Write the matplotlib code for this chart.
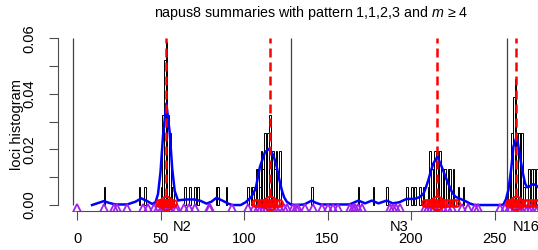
import numpy as np
import matplotlib
matplotlib.use("Agg")
import matplotlib.pyplot as plt

plt.rcParams['font.family'] = ['Liberation Sans', 'DejaVu Sans']
plt.rcParams['mathtext.fontset'] = 'custom'
plt.rcParams['mathtext.it'] = 'Liberation Sans:italic'
plt.rcParams['mathtext.rm'] = 'Liberation Sans'

# histogram: bin left edges (Mb) and counts; one count = 0.0065 density
bin_left = [16, 37, 40, 50, 51, 52, 53, 54, 55, 56, 57, 64, 67, 70, 72, 83, 84, 89,
            102, 104, 105, 107, 108, 109, 110, 111, 112, 113, 114, 115, 116, 117, 118, 119, 121,
            140, 168, 177, 185, 197, 200, 202, 205, 207, 210, 211, 212, 213, 214, 215, 216,
            217, 218, 219, 220, 222, 223, 225, 228, 231,
            258, 259, 260, 261, 262, 263, 264, 265, 266, 267, 270, 272, 273, 275]
bin_count = [1, 1, 1, 1, 5, 8, 9, 5, 4, 1, 1, 1, 1, 1, 1, 1, 1, 1,
             1, 1, 1, 2, 2, 1, 3, 2, 4, 3, 4, 5, 2, 3, 2, 3, 3,
             1, 1, 1, 1, 1, 1, 1, 1, 1, 1, 3, 2, 2, 3, 3, 3,
             3, 2, 2, 2, 2, 2, 2, 1, 1,
             1, 2, 4, 6, 7, 4, 4, 4, 4, 1, 2, 2, 2, 2]
unit = 0.0065

# smoothed density (blue)
dens_x = [9, 13, 16, 19, 23, 30, 35, 38.5, 42, 45, 47, 48.5, 50, 51.5, 53.5, 55.5, 57,
          58.5, 60.5, 62, 66, 70, 74, 77.5, 80.5, 83.5, 87, 91, 93, 98, 101, 104.5, 107,
          109.5, 112.5, 115.2, 117.5, 119.6, 121, 122.6, 124, 125.6, 128, 131,
          136, 138, 140.5, 143, 146, 163, 165.5, 168.5, 172.5, 176.5, 180.5, 185.4, 189,
          193, 197.4, 202, 205, 207.4, 209, 210.4, 212, 213.4, 215.8, 218.4, 221.4, 224.4,
          226.5, 228.4, 230.3, 232.3, 235, 238, 254,
          255.3, 256.8, 258.3, 260, 261.3, 263.3, 265.3, 266.8, 268.3, 269.5, 270.8, 272,
          273.2, 274.5, 276, 278, 281]
dens_y = [0, 0.0008, 0.0014, 0.0008, 0.0002, 0.0002, 0.0012, 0.0024, 0.0014, 0.0004,
          0.001, 0.004, 0.012, 0.025, 0.0365, 0.026, 0.013, 0.005, 0.0016, 0.0018, 0.002,
          0.002, 0.0015, 0.0005, 0.0012, 0.0026, 0.0016, 0.0004, 0, 0, 0.001, 0.003, 0.006,
          0.0137, 0.019, 0.0203, 0.018, 0.0137, 0.0095, 0.0054, 0.0028, 0.0012, 0.0002, 0,
          0.0002, 0.0008, 0.0016, 0.0008, 0.0002, 0.0002, 0.0008, 0.0016, 0.0006, 0.0016,
          0.0006, 0.0016, 0.0006, 0.001, 0.0022, 0.0022, 0.0028, 0.004, 0.0065, 0.009,
          0.0125, 0.015, 0.0174, 0.0137, 0.009, 0.0048, 0.003, 0.0025, 0.002, 0.0015,
          0.0006, 0, 0,
          0.0002, 0.002, 0.0054, 0.013, 0.021, 0.0248, 0.0173, 0.012, 0.0078, 0.0064,
          0.0066, 0.0072, 0.0075, 0.0072, 0.0066, 0.005, 0.003]

# loci positions (purple) and loci inside peaks (red)
loci = [0, 16.3, 22, 23.8, 30, 39.7, 42.7, 45.8, 48.7, 51, 53, 55, 58.5, 60, 64.2, 67,
        70.7, 78.8, 79.7, 92.6, 102.6, 106, 108.6, 110, 112, 114, 117, 119, 121.5, 124,
        125.5, 129.5, 131, 132.5, 136.5, 141.5, 146.5, 150.5, 153.5, 156.5, 163.5, 165,
        166.5, 168, 170.5, 187.5, 189, 191, 193.4, 208.4, 210, 212.2, 214, 217, 219, 222,
        224.4, 230.4, 234.3, 238.3, 240, 253.3, 256.3, 258.5, 260, 262, 264, 266, 268,
        270, 272, 274, 276]
peak_loci = [49, 50.5, 51.5, 52.5, 53, 53.7, 54.5, 55.5, 57.5,
             106.5, 108, 110, 111.5, 113, 114.5, 116, 117.5, 119, 121,
             208.5, 210, 211.5, 213, 214.5, 216, 217.5, 219, 221, 223, 225, 227,
             258.5, 260, 261.5, 263, 264.5, 266, 268, 270, 272, 274, 276]
peaks = [53.3, 115.4, 215.7, 263.1]
chrom_ends = [-2.5, 128, 257.5, 280]
chrom_names = ["N2", "N3", "N16"]

fig = plt.figure(figsize=(5.38, 2.5), dpi=100)
ax = fig.add_axes([58 / 538, 39 / 250, 507 / 538, 173.3 / 250])

ax.bar(bin_left, np.array(bin_count) * unit, width=1, align='edge', fill=False,
       edgecolor='black', linewidth=0.7)
ax.vlines(chrom_ends, 0, 0.06, color='0.25', linewidth=0.9)
ax.plot(dens_x, dens_y, color='blue', linewidth=1.8)
for p in peaks:
    ax.axvline(p, color='red', linewidth=1.8, linestyle=(0, (3.6, 2)))
ax.plot(loci, np.full(len(loci), -0.0011), linestyle='none', marker='^',
        markersize=5.5, markerfacecolor='none', markeredgecolor='#A020F0', markeredgewidth=1.3)
ax.plot(peak_loci, np.full(len(peak_loci), 0.0006), linestyle='none', marker='o',
        markersize=5, markerfacecolor='none', markeredgecolor='red', markeredgewidth=1.3)
ax.plot(peaks, np.full(len(peaks), 0.0006), linestyle='none', marker='o',
        markersize=9.5, markerfacecolor='none', markeredgecolor='red', markeredgewidth=1.6)

ax.set_xlim(-11.4, 292.2)
ax.set_ylim(-0.00215, 0.0602)
for s in ['top', 'right']:
    ax.spines[s].set_visible(False)
ax.spines['left'].set_bounds(0, 0.06)
ax.spines['bottom'].set_bounds(0, 250)
ax.spines['left'].set_color('0.3')
ax.spines['bottom'].set_color('0.3')

ax.set_xticks([0, 50, 100, 150, 200, 250])
ax.set_yticks([0, 0.01, 0.02, 0.03, 0.04, 0.05, 0.06])
ax.set_yticklabels(["0.00", "", "0.02", "", "0.04", "", "0.06"], rotation=90, va='center')
ax.tick_params(axis='both', direction='out', length=6.5, width=0.8, labelsize=10.5,
               colors='0.3', labelcolor='black')
ax.tick_params(axis='x', pad=8.5)
ax.tick_params(axis='y', pad=9)

mids = [(chrom_ends[i] + chrom_ends[i + 1]) / 2 for i in range(len(chrom_names))]
for m, name in zip(mids, chrom_names):
    ax.text(m, -0.092, name, transform=ax.get_xaxis_transform(), ha='center', va='center',
            fontsize=10.5)

fig.text(17 / 538, 0.5 + (0.5 - (124 / 250)), "loci histogram", rotation=90,
         ha='center', va='center', fontsize=10.5)
fig.text(311.5 / 538, 1 - 13 / 250, "napus8 summaries with pattern 1,1,2,3 and $m$ \u2265 4",
         ha='center', va='center', fontsize=10.3)

fig.savefig("out.png", dpi=100)
